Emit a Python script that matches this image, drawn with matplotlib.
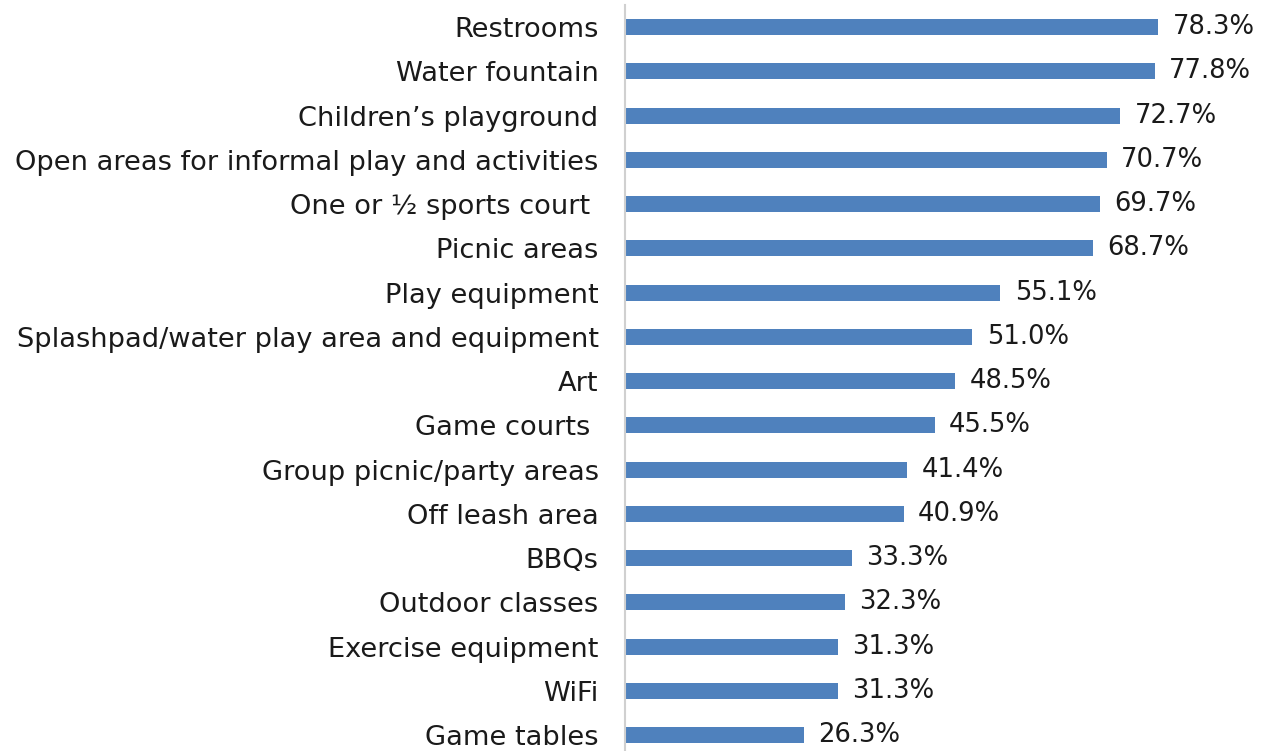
import numpy as np
import matplotlib.pyplot as plt
import matplotlib.transforms as mtransforms

plt.rcParams['font.family'] = ['DejaVu Sans']

# data, top to bottom
labels = ["Restrooms", "Water fountain", "Children\u2019s playground",
          "Open areas for informal play and activities", "One or \u00bd sports court ",
          "Picnic areas", "Play equipment", "Splashpad/water play area and equipment",
          "Art", "Game courts ", "Group picnic/party areas", "Off leash area",
          "BBQs", "Outdoor classes", "Exercise equipment", "WiFi", "Game tables"]
values = [78.3, 77.8, 72.7, 70.7, 69.7, 68.7, 55.1, 51.0, 48.5, 45.5,
          41.4, 40.9, 33.3, 32.3, 31.3, 31.3, 26.3]

fig = plt.figure(figsize=(12.68, 7.51), dpi=100)
ax = fig.add_axes([625 / 1268, 0, 1 - 625 / 1268, 746 / 751])

# nudge text up a few pixels so it sits on the bar centre
shift = mtransforms.ScaledTranslation(0, 3 / 100, fig.dpi_scale_trans)

y = np.arange(len(labels))
ax.barh(y, values, height=0.36, color='#4F81BD')
for yi, v in zip(y, values):
    ax.text(v + 2.1, yi, f"{v:.1f}%", va='center_baseline', ha='left',
            fontsize=18.6, color='#1a1a1a', transform=ax.transData + shift)

ax.set_yticks(y)
ax.set_yticklabels(labels, fontsize=19.6, color='#1a1a1a')
for lbl in ax.get_yticklabels():
    lbl.set_transform(lbl.get_transform() + shift)
ax.tick_params(axis='y', length=0, pad=19)
ax.set_xticks([])
ax.set_xlim(0, 94.4)
ax.set_ylim(16.36, -0.5)
for s in ['top', 'right', 'bottom']:
    ax.spines[s].set_visible(False)
ax.spines['left'].set_color('#D0D0D0')
ax.spines['left'].set_linewidth(1.5)

fig.savefig('out.png', dpi=100)
